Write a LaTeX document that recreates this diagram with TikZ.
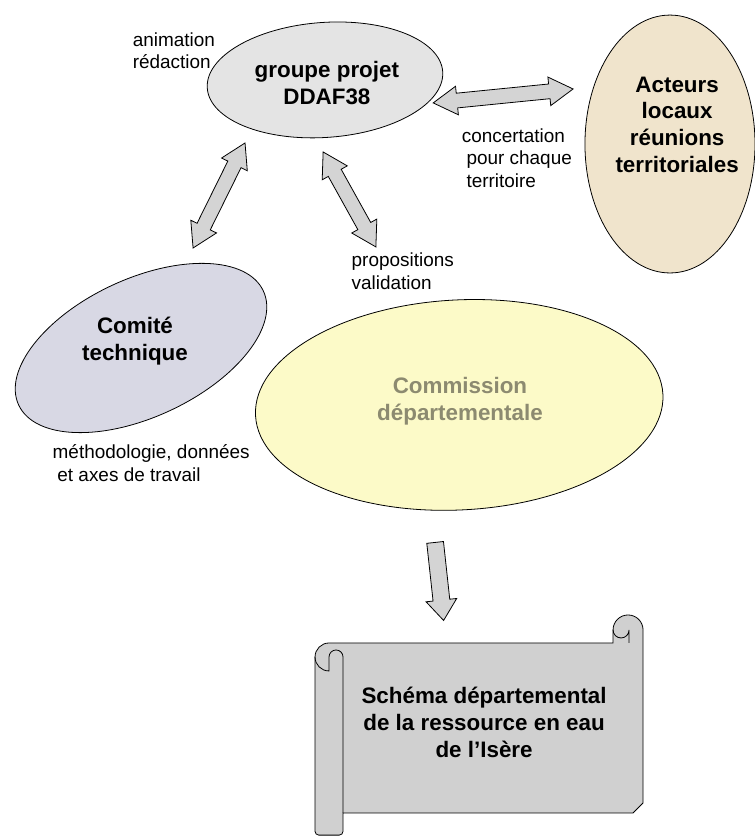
\documentclass[tikz,border=0pt]{standalone}
\usepackage{fontspec}
\setmainfont{Liberation Sans}
\usetikzlibrary{shapes.geometric, shapes.arrows, calc}

\definecolor{gris}{RGB}{228,228,228}
\definecolor{beige}{RGB}{240,228,204}
\definecolor{lavande}{RGB}{216,216,228}
\definecolor{jaune}{RGB}{252,250,200}
\definecolor{olive}{RGB}{140,138,112}
\definecolor{fleche}{RGB}{212,212,212}
\definecolor{parchemin}{RGB}{208,208,208}

\newcommand{\doublefleche}[3]{\path let \p1 = ($(#3)-(#2)$), \n1 = {atan2(\y1,\x1)}, \n2 = {veclen(\x1,\y1)} in node [grossefleche, minimum height=\n2, rotate=\n1] (#1) at ($(#2)!0.5!(#3)$) {};}

\newcommand{\simplefleche}[3]{\path let \p1 = ($(#3)-(#2)$), \n1 = {atan2(\y1,\x1)}, \n2 = {veclen(\x1,\y1)} in node [flechebas, minimum height=\n2, rotate=\n1] (#1) at ($(#2)!0.5!(#3)$) {};}

\begin{document}
\begin{tikzpicture}[line width=0.6pt,
bulle/.style={ellipse, draw, inner sep=0pt},
titre/.style={align =center, font=\bfseries\fontsize{16.9}{20.3}\selectfont},
note/.style={align =left, anchor=west, font=\fontsize{14.3}{16.9}\selectfont},
grossefleche/.style={double arrow, draw, fill=fleche, inner xsep=0pt, inner ysep=0.185cm, double arrow head extend=0.185cm, double arrow tip angle=62},
flechebas/.style={single arrow, draw, fill=fleche, inner xsep=0pt, inner ysep=0.212cm, single arrow head extend=0.186cm, single arrow tip angle=74}]

\useasboundingbox (0, 0) rectangle (20, 22.2);

\draw (8.62, 20.08) node [bulle, fill=gris, minimum width=6.26cm, minimum height=3.05cm, rotate=4] (groupe) {};

\draw (17.77, 18.38) node [bulle, fill=beige, minimum width=4.51cm, minimum height=6.84cm] (acteurs) {};

\draw (3.74, 12.97) node [bulle, fill=lavande, minimum width=7.16cm, minimum height=3.66cm, rotate=25] (comite) {};

\draw (12.18, 11.46) node [bulle, fill=jaune, minimum width=10.82cm, minimum height=5.57cm, rotate=3] (commission) {};

\draw [fill=parchemin] (9.098, 0.637) -- (16.79, 0.637) -- (17.056, 0.902) -- (17.056, 5.491) arc (0:180:0.398) -- (16.26, 5.146) -- (8.727, 5.146) arc (90:180:0.3715) -- (8.355, 0.15) arc (180:270:0.1) -- (8.998, 0.05) arc (270:360:0.1) -- cycle;

\draw (8.355, 4.775) arc (180:270:0.3715) -- (8.727, 4.775) arc (180:0:0.1855) -- (9.098, 0.637);

\draw (16.26, 5.491) arc (180:360:0.212) -- (16.684, 5.146);

\draw (8.67, 19.99) node [titre] (groupetexte) {groupe projet\\DDAF38};

\draw (17.96, 18.89) node [titre] (acteurstexte) {Acteurs\\locaux\\réunions\\territoriales};

\draw (3.58, 13.16) node [titre] (comitetexte) {Comité\\technique};

\draw (12.20, 11.565) node [titre, text=olive] (commissiontexte) {Commission\\départementale};

\draw (12.84, 3.05) node [titre] (schema) {Schéma départemental\\de la ressource en eau\\de l’Isère};

\draw (3.395, 20.85) node [note] (animation) {animation\\rédaction};

\draw (12.12, 18.01) node [note] (concertation) {concertation\\\hspace{0.25em}pour chaque\\\hspace{0.25em}territoire};

\draw (9.20, 15.01) node [note] (propositions) {propositions\\validation};

\draw (1.27, 9.92) node [note] (methodologie) {méthodologie, données\\\hspace{0.25em}et axes de travail};

\coordinate (g1) at (11.49, 19.47);
\coordinate (a1) at (15.20, 19.84);
\coordinate (g2) at (6.50, 18.41);
\coordinate (t2) at (5.12, 15.62);
\coordinate (g3) at (8.57, 18.17);
\coordinate (c3) at (9.97, 15.65);
\coordinate (c4) at (11.525, 7.96);
\coordinate (s4) at (11.75, 5.89);

\doublefleche{f1}{g1}{a1}
\doublefleche{f2}{g2}{t2}
\doublefleche{f3}{g3}{c3}
\simplefleche{f4}{c4}{s4}

\end{tikzpicture}
\end{document}
